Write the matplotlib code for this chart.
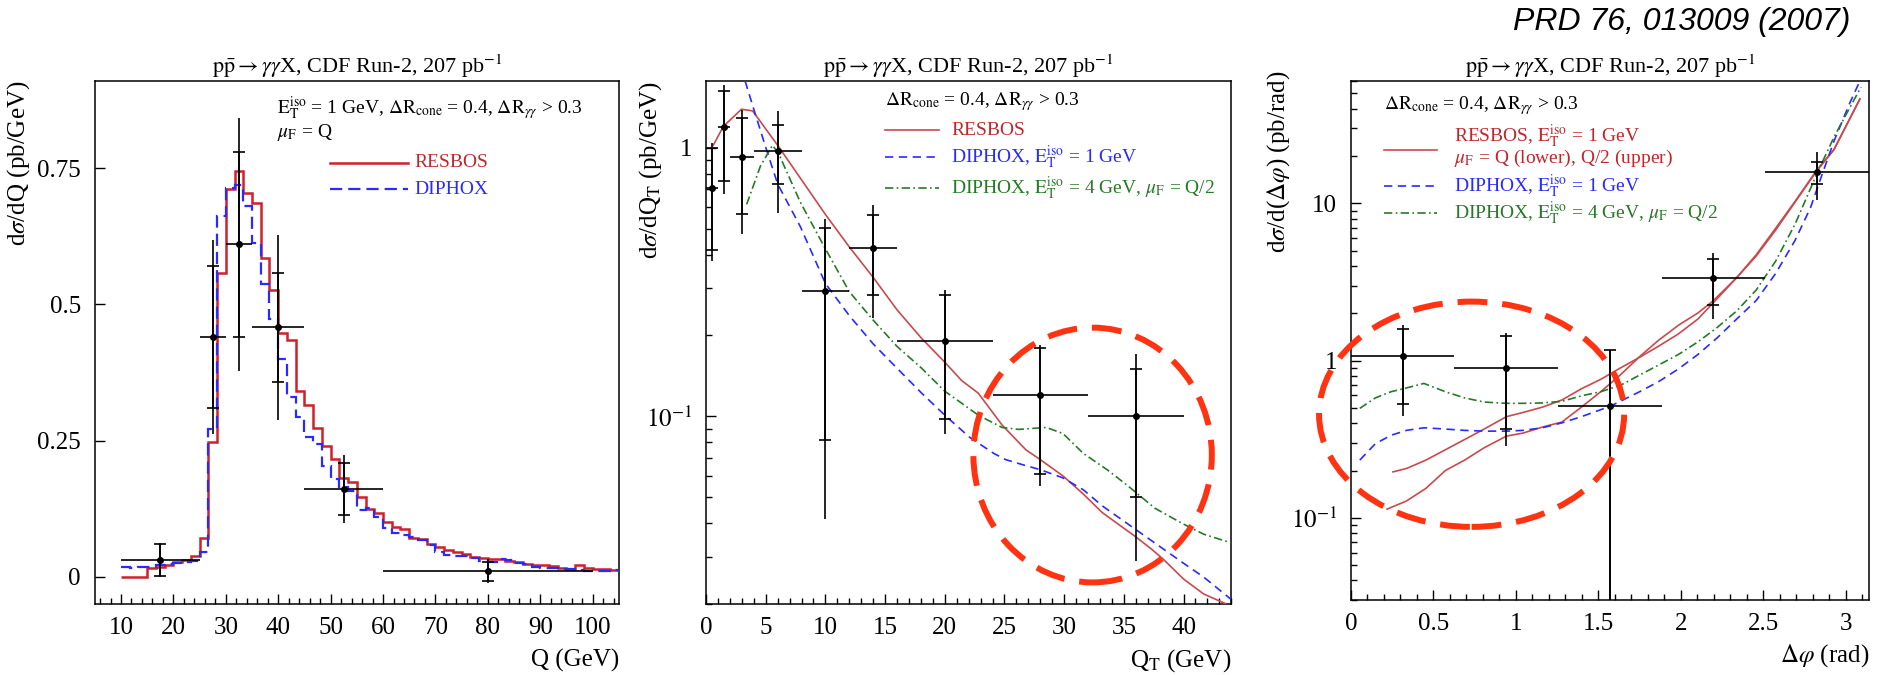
import numpy as np
import matplotlib.pyplot as plt
from matplotlib.patches import Ellipse
from matplotlib.lines import Line2D
from matplotlib.ticker import FixedLocator, FixedFormatter, MultipleLocator, LogLocator, NullFormatter

plt.rcParams['font.family'] = ['Liberation Serif', 'DejaVu Serif']
plt.rcParams['mathtext.fontset'] = 'stix'

# ---------- panel 1 : dsigma/dQ ----------
q_edges = 10 + (5 / 3) * np.arange(58)
resbos_q = [0, 0, 0, 0.016, 0.019, 0.022, 0.028, 0.031, 0.039, 0.071,
            0.247, 0.558, 0.712, 0.745, 0.704, 0.687, 0.585, 0.526, 0.447, 0.434,
            0.341, 0.315, 0.274, 0.240, 0.216, 0.181, 0.174, 0.146, 0.124, 0.117,
            0.101, 0.091, 0.087, 0.072, 0.070, 0.061, 0.055, 0.050, 0.045, 0.042,
            0.036, 0.034, 0.033, 0.033, 0.029, 0.028, 0.024, 0.022, 0.021, 0.020,
            0.016, 0.015, 0.021, 0.016, 0.015, 0.015, 0.013]
diphox_q = [0.018, 0.017, 0.018, 0.019, 0.021, 0.024, 0.026, 0.028, 0.030, 0.045,
            0.271, 0.663, 0.714, 0.720, 0.680, 0.612, 0.538, 0.474, 0.399, 0.330,
            0.293, 0.257, 0.243, 0.203, 0.179, 0.165, 0.158, 0.122, 0.127, 0.110,
            0.089, 0.080, 0.076, 0.073, 0.067, 0.058, 0.045, 0.041, 0.039, 0.039,
            0.034, 0.029, 0.028, 0.033, 0.031, 0.026, 0.024, 0.019, 0.016, 0.016,
            0.015, 0.015, 0.013, 0.010, 0.010, 0.011, 0.013]
data_q_x = [17.5, 27.5, 32.5, 40, 52.5, 80]
data_q_xerr = [7.5, 2.5, 2.5, 5, 7.5, 20]
data_q_y = [0.031, 0.44, 0.61, 0.458, 0.161, 0.010]
data_q_stat = [0.029, 0.13, 0.17, 0.10, 0.048, 0.017]
data_q_tot = [0.031, 0.178, 0.233, 0.17, 0.063, 0.022]

# ---------- panel 2 : dsigma/dQT ----------
data_qt_x = [0.5, 1.5, 3, 6, 10, 14, 20, 28, 36]
data_qt_xerr = [0.5, 0.5, 1, 2, 2, 2, 4, 4, 4]
data_qt_y = [0.707, 1.19, 0.926, 0.972, 0.2915, 0.4226, 0.190, 0.120, 0.100]
data_qt_stat = [0.29, 0.44, 0.36, 0.24, 0.21, 0.14, 0.092, 0.059, 0.050]
data_qt_tot = [0.33, 0.52, 0.45, 0.40, 0.25, 0.19, 0.104, 0.065, 0.071]

resbos_qt_x = [0.6, 1.45, 2.97, 3.9, 6.0, 10, 12, 14, 16, 18.06, 20, 21.4, 22.8, 24.8,
               26.8, 28, 29.9, 31.6, 33.2, 36, 37.3, 38.3, 40, 41.7, 43.5]
resbos_qt_y = [1.02, 1.20, 1.39, 1.37, 1.02, 0.564, 0.427, 0.329, 0.249, 0.195, 0.159,
               0.136, 0.122, 0.0928, 0.075, 0.069, 0.060, 0.0514, 0.0438, 0.0356,
               0.0321, 0.0294, 0.0248, 0.0218, 0.0201]
diphox1_qt_x = [3.27, 4.2, 5.06, 6.0, 7.9, 10, 12, 14, 16, 18.06, 20, 22.1, 24.1, 25.1,
                26.8, 28, 29.9, 31.6, 33.2, 36, 38.3, 40, 41.7, 44]
diphox1_qt_y = [1.77, 1.30, 0.983, 0.732, 0.508, 0.312, 0.237, 0.186, 0.151, 0.122,
                0.101, 0.0834, 0.0728, 0.069, 0.0655, 0.0633, 0.059, 0.0533, 0.0464,
                0.0379, 0.0321, 0.0284, 0.0252, 0.0208]
diphox4_qt_x = [3.4, 4.56, 5.57, 6.08, 7.9, 10, 12, 14, 16, 18.06, 20, 21.4, 22.8, 24.8,
                26.2, 28.5, 29.9, 31.6, 33.6, 35.3, 37.6, 40, 41.7, 44]
diphox4_qt_y = [0.615, 0.855, 1.02, 0.95, 0.626, 0.42, 0.291, 0.228, 0.182, 0.151,
                0.124, 0.112, 0.101, 0.0909, 0.0894, 0.0909, 0.0863, 0.0728, 0.0633,
                0.0553, 0.0455, 0.0397, 0.0364, 0.0338]

# ---------- panel 3 : dsigma/dDeltaphi ----------
data_phi_x = [0.314, 0.942, 1.571, 2.199, 2.827]
data_phi_xerr = [0.314, 0.314, 0.314, 0.314, 0.314]
data_phi_y = [1.062, 0.896, 0.513, 3.35, 15.77]
data_phi_stat = [0.53, 0.53, 0.65, 1.1, 2.5]
data_phi_tot = [0.62, 0.61, 0.66, 1.5, 5.3]

resbos_up_x = [0.255, 0.337, 0.455, 0.573, 0.69, 0.808, 0.943, 1.044, 1.162, 1.28, 1.398,
               1.515, 1.633, 1.751, 1.869, 1.987, 2.105, 2.199, 2.34, 2.458, 2.576,
               2.694, 2.826, 2.93, 3.087]
resbos_up_y = [0.196, 0.206, 0.233, 0.271, 0.315, 0.367, 0.44, 0.468, 0.506, 0.562,
               0.662, 0.76, 0.896, 1.05, 1.24, 1.48, 1.84, 2.34, 3.37, 4.71, 6.94,
               10.3, 16.3, 22.0, 46.2]
resbos_lo_x = [0.219, 0.337, 0.455, 0.573, 0.69, 0.808, 0.943, 1.044, 1.162, 1.28, 1.398,
               1.515, 1.633, 1.751, 1.869, 1.987, 2.105, 2.199, 2.34, 2.458, 2.576,
               2.694, 2.826, 2.93, 3.087]
resbos_lo_y = [0.1136, 0.128, 0.154, 0.2, 0.233, 0.279, 0.331, 0.346, 0.378, 0.407,
               0.506, 0.634, 0.809, 1.06, 1.355, 1.68, 2.01, 2.41, 3.37, 4.62, 6.76,
               10.2, 16.1, 22.0, 46.0]
diphox1_phi_x = [0.054, 0.148, 0.243, 0.337, 0.443, 0.573, 0.69, 0.808, 0.943, 1.044,
                 1.162, 1.28, 1.398, 1.574, 1.751, 1.869, 1.987, 2.105, 2.222, 2.34,
                 2.458, 2.576, 2.694, 2.788, 2.859, 2.93, 3.024, 3.09]
diphox1_phi_y = [0.233, 0.296, 0.335, 0.36, 0.374, 0.367, 0.36, 0.356, 0.356, 0.36,
                 0.374, 0.402, 0.44, 0.513, 0.634, 0.738, 0.886, 1.095, 1.397, 1.84,
                 2.41, 3.58, 5.82, 9.42, 15.4, 24.9, 43.0, 61.0]
diphox4_phi_x = [0.054, 0.148, 0.243, 0.337, 0.443, 0.573, 0.69, 0.808, 0.943, 1.044,
                 1.162, 1.28, 1.398, 1.515, 1.633, 1.751, 1.869, 1.987, 2.105, 2.222,
                 2.34, 2.458, 2.576, 2.694, 2.826, 2.93, 3.024, 3.094]
diphox4_phi_y = [0.497, 0.579, 0.634, 0.67, 0.716, 0.634, 0.579, 0.545, 0.535, 0.535,
                 0.538, 0.551, 0.597, 0.634, 0.695, 0.809, 0.941, 1.095, 1.316, 1.626,
                 2.07, 2.81, 4.29, 7.38, 15.4, 26.4, 40.3, 54.9]

# ---------- styles ----------
RED1 = '#d0202a'
RED = '#c84a4e'
BLUE = '#2a2aff'
GREEN = '#267a26'
RED_TXT = '#c0272d'
CIRCLE = '#ff3311'
TITLE = r'$\mathrm{p\bar{p}} \rightarrow \gamma\gamma$X, CDF Run-2, 207 pb$^{\mathrm{-1}}$'
FS_TICK = 18
FS_TXT = 14

fig = plt.figure(figsize=(18.96, 6.75), dpi=100)
ax1 = fig.add_axes([0.050, 0.105, 0.2764, 0.775])
ax2 = fig.add_axes([0.3724, 0.105, 0.2770, 0.775])
ax3 = fig.add_axes([0.7125, 0.111, 0.2732, 0.769])


def style(ax):
    for s in ax.spines.values():
        s.set_linewidth(1.1)
    ax.tick_params(which='both', direction='in', top=False, right=False,
                   labelsize=FS_TICK, width=1.0)
    ax.tick_params(which='major', length=7)
    ax.tick_params(which='minor', length=4)
    ax.tick_params(axis='y', pad=10)
    ax.tick_params(axis='x', pad=9)
    ax.set_title(TITLE, fontsize=16, pad=6)


def labels(ax, xlab, ylab, ylab_x, ylab_y=1.0):
    ax.set_xlabel(xlab, fontsize=FS_TICK, loc='right')
    ax.xaxis.label.set_va('center')
    ax.xaxis.set_label_coords(1.0, -56 / (ax.get_position().height * 675))
    ax.set_ylabel(ylab, fontsize=FS_TICK, loc='top')
    ax.yaxis.set_label_coords(ylab_x, ylab_y)


def data_points(ax, x, xerr, y, stat, tot):
    ax.errorbar(x, y, xerr=xerr, yerr=tot, fmt='o', color='black', ms=4,
                elinewidth=1.2, capsize=0, zorder=5)
    ax.errorbar(x, y, yerr=stat, fmt='none', ecolor='black', elinewidth=1.2,
                capsize=4, capthick=1.2, zorder=5)


def leg_line(ax, x0, x1, y, **kw):
    ax.add_line(Line2D([x0, x1], [y, y], transform=ax.transAxes, **kw))


# ---- panel 1
style(ax1)
ax1.stairs(resbos_q, q_edges, baseline=None, color=RED1, lw=1.8, zorder=3)
ax1.stairs(diphox_q, q_edges, baseline=None, color=BLUE, lw=1.6,
           linestyle=(0, (5.5, 2.7)), zorder=3)
data_points(ax1, data_q_x, data_q_xerr, data_q_y, data_q_stat, data_q_tot)
ax1.set_xlim(5, 105)
ax1.set_ylim(-0.05, 0.91)
ax1.xaxis.set_major_locator(MultipleLocator(10))
ax1.xaxis.set_minor_locator(MultipleLocator(2))
ax1.yaxis.set_major_locator(FixedLocator([0, 0.25, 0.5, 0.75]))
ax1.yaxis.set_major_formatter(FixedFormatter(['0', '0.25', '0.5', '0.75']))
labels(ax1, 'Q (GeV)', r'd$\sigma$/dQ (pb/GeV)', -0.120)
ax1.text(0.348, 0.949, r'$\mathrm{E_T^{iso}}$ = 1 GeV, $\Delta\mathrm{R_{cone}}$ = 0.4, '
         r'$\Delta\mathrm{R}_{\gamma\gamma}$ > 0.3', transform=ax1.transAxes,
         fontsize=FS_TXT, va='center')
ax1.text(0.348, 0.902, r'$\mu_\mathrm{F}$ = Q', transform=ax1.transAxes,
         fontsize=FS_TXT, va='center')
leg_line(ax1, 0.448, 0.597, 0.844, color=RED1, lw=1.8)
leg_line(ax1, 0.448, 0.597, 0.793, color=BLUE, lw=1.6, linestyle=(0, (5.5, 2.7)))
ax1.text(0.609, 0.844, 'RESBOS', color=RED_TXT, transform=ax1.transAxes,
         fontsize=FS_TXT, va='center')
ax1.text(0.609, 0.793, 'DIPHOX', color=BLUE, transform=ax1.transAxes,
         fontsize=FS_TXT, va='center')

# ---- panel 2
style(ax2)
ax2.set_yscale('log')
ax2.plot(resbos_qt_x, resbos_qt_y, color=RED, lw=1.2, zorder=3)
ax2.plot(diphox1_qt_x, diphox1_qt_y, color=BLUE, lw=1.2,
         linestyle=(0, (5, 3.3)), zorder=3)
ax2.plot(diphox4_qt_x, diphox4_qt_y, color=GREEN, lw=1.2,
         linestyle=(0, (5, 2, 1, 2)), zorder=3)
data_points(ax2, data_qt_x, data_qt_xerr, data_qt_y, data_qt_stat, data_qt_tot)
ax2.set_xlim(0, 44)
ax2.set_ylim(0.02, 1.77)
ax2.xaxis.set_major_locator(MultipleLocator(5))
ax2.xaxis.set_minor_locator(MultipleLocator(1))
ax2.yaxis.set_major_locator(FixedLocator([0.1, 1]))
ax2.yaxis.set_major_formatter(FixedFormatter([r'$10^{\mathrm{-1}}$', '1']))
ax2.yaxis.set_minor_locator(LogLocator(base=10, subs=np.arange(2, 10)))
ax2.yaxis.set_minor_formatter(NullFormatter())
labels(ax2, r'Q$_\mathrm{T}$ (GeV)', r'd$\sigma$/dQ$_\mathrm{T}$ (pb/GeV)', -0.080)
ax2.text(0.341, 0.96, r'$\Delta\mathrm{R_{cone}}$ = 0.4, $\Delta\mathrm{R}_{\gamma\gamma}$ > 0.3',
         transform=ax2.transAxes, fontsize=FS_TXT, va='center')
leg_line(ax2, 0.341, 0.444, 0.906, color=RED, lw=1.2)
leg_line(ax2, 0.341, 0.444, 0.854, color=BLUE, lw=1.2, linestyle=(0, (5, 3.3)))
leg_line(ax2, 0.341, 0.444, 0.795, color=GREEN, lw=1.2, linestyle=(0, (5, 2, 1, 2)))
ax2.text(0.467, 0.906, 'RESBOS', color=RED_TXT, transform=ax2.transAxes,
         fontsize=FS_TXT, va='center')
ax2.text(0.467, 0.854, r'DIPHOX, $\mathrm{E_T^{iso}}$ = 1 GeV', color=BLUE,
         transform=ax2.transAxes, fontsize=FS_TXT, va='center')
ax2.text(0.467, 0.795, r'DIPHOX, $\mathrm{E_T^{iso}}$ = 4 GeV, $\mu_\mathrm{F}$ = Q/2',
         color=GREEN, transform=ax2.transAxes, fontsize=FS_TXT, va='center')
ax2.add_patch(Ellipse((0.736, 0.285), 0.454, 0.487, transform=ax2.transAxes,
                      fill=False, edgecolor=CIRCLE, lw=4.3,
                      linestyle=(0, (5, 2.5)), zorder=6, clip_on=False))

# ---- panel 3
style(ax3)
ax3.set_yscale('log')
ax3.plot(resbos_up_x, resbos_up_y, color=RED, lw=1.2, zorder=3)
ax3.plot(resbos_lo_x, resbos_lo_y, color=RED, lw=1.2, zorder=3)
ax3.plot(diphox1_phi_x, diphox1_phi_y, color=BLUE, lw=1.2,
         linestyle=(0, (5, 3.3)), zorder=3)
ax3.plot(diphox4_phi_x, diphox4_phi_y, color=GREEN, lw=1.2,
         linestyle=(0, (5, 2, 1, 2)), zorder=3)
data_points(ax3, data_phi_x, data_phi_xerr, data_phi_y, data_phi_stat, data_phi_tot)
ax3.set_xlim(0, np.pi)
ax3.set_ylim(0.03, 60)
ax3.xaxis.set_major_locator(FixedLocator([0, 0.5, 1, 1.5, 2, 2.5, 3]))
ax3.xaxis.set_major_formatter(FixedFormatter(['0', '0.5', '1', '1.5', '2', '2.5', '3']))
ax3.xaxis.set_minor_locator(MultipleLocator(0.1))
ax3.yaxis.set_major_locator(FixedLocator([0.1, 1, 10]))
ax3.yaxis.set_major_formatter(FixedFormatter([r'$10^{\mathrm{-1}}$', '1', '10']))
ax3.yaxis.set_minor_locator(LogLocator(base=10, subs=np.arange(2, 10)))
ax3.yaxis.set_minor_formatter(NullFormatter())
labels(ax3, r'$\Delta\varphi$ (rad)', r'd$\sigma$/d($\Delta\varphi$) (pb/rad)', -0.114, 1.02)
ax3.text(0.064, 0.953, r'$\Delta\mathrm{R_{cone}}$ = 0.4, $\Delta\mathrm{R}_{\gamma\gamma}$ > 0.3',
         transform=ax3.transAxes, fontsize=FS_TXT, va='center')
leg_line(ax3, 0.064, 0.167, 0.867, color=RED, lw=1.2)
leg_line(ax3, 0.064, 0.167, 0.798, color=BLUE, lw=1.2, linestyle=(0, (5, 3.3)))
leg_line(ax3, 0.064, 0.167, 0.746, color=GREEN, lw=1.2, linestyle=(0, (5, 2, 1, 2)))
ax3.text(0.199, 0.893, r'RESBOS, $\mathrm{E_T^{iso}}$ = 1 GeV', color=RED_TXT,
         transform=ax3.transAxes, fontsize=FS_TXT, va='center')
ax3.text(0.199, 0.850, r'$\mu_\mathrm{F}$ = Q (lower), Q/2 (upper)', color=RED_TXT,
         transform=ax3.transAxes, fontsize=FS_TXT, va='center')
ax3.text(0.199, 0.798, r'DIPHOX, $\mathrm{E_T^{iso}}$ = 1 GeV', color=BLUE,
         transform=ax3.transAxes, fontsize=FS_TXT, va='center')
ax3.text(0.199, 0.746, r'DIPHOX, $\mathrm{E_T^{iso}}$ = 4 GeV, $\mu_\mathrm{F}$ = Q/2',
         color=GREEN, transform=ax3.transAxes, fontsize=FS_TXT, va='center')
ax3.add_patch(Ellipse((0.233, 0.358), 0.589, 0.434, transform=ax3.transAxes,
                      fill=False, edgecolor=CIRCLE, lw=4.3,
                      linestyle=(0, (5, 2.5)), zorder=6, clip_on=False))

fig.text(0.9757, 0.967, 'PRD 76, 013009 (2007)', ha='right', va='center',
         fontsize=23, style='italic', family=['Liberation Sans', 'DejaVu Sans'])

fig.savefig('out.png', dpi=100, facecolor='white')
